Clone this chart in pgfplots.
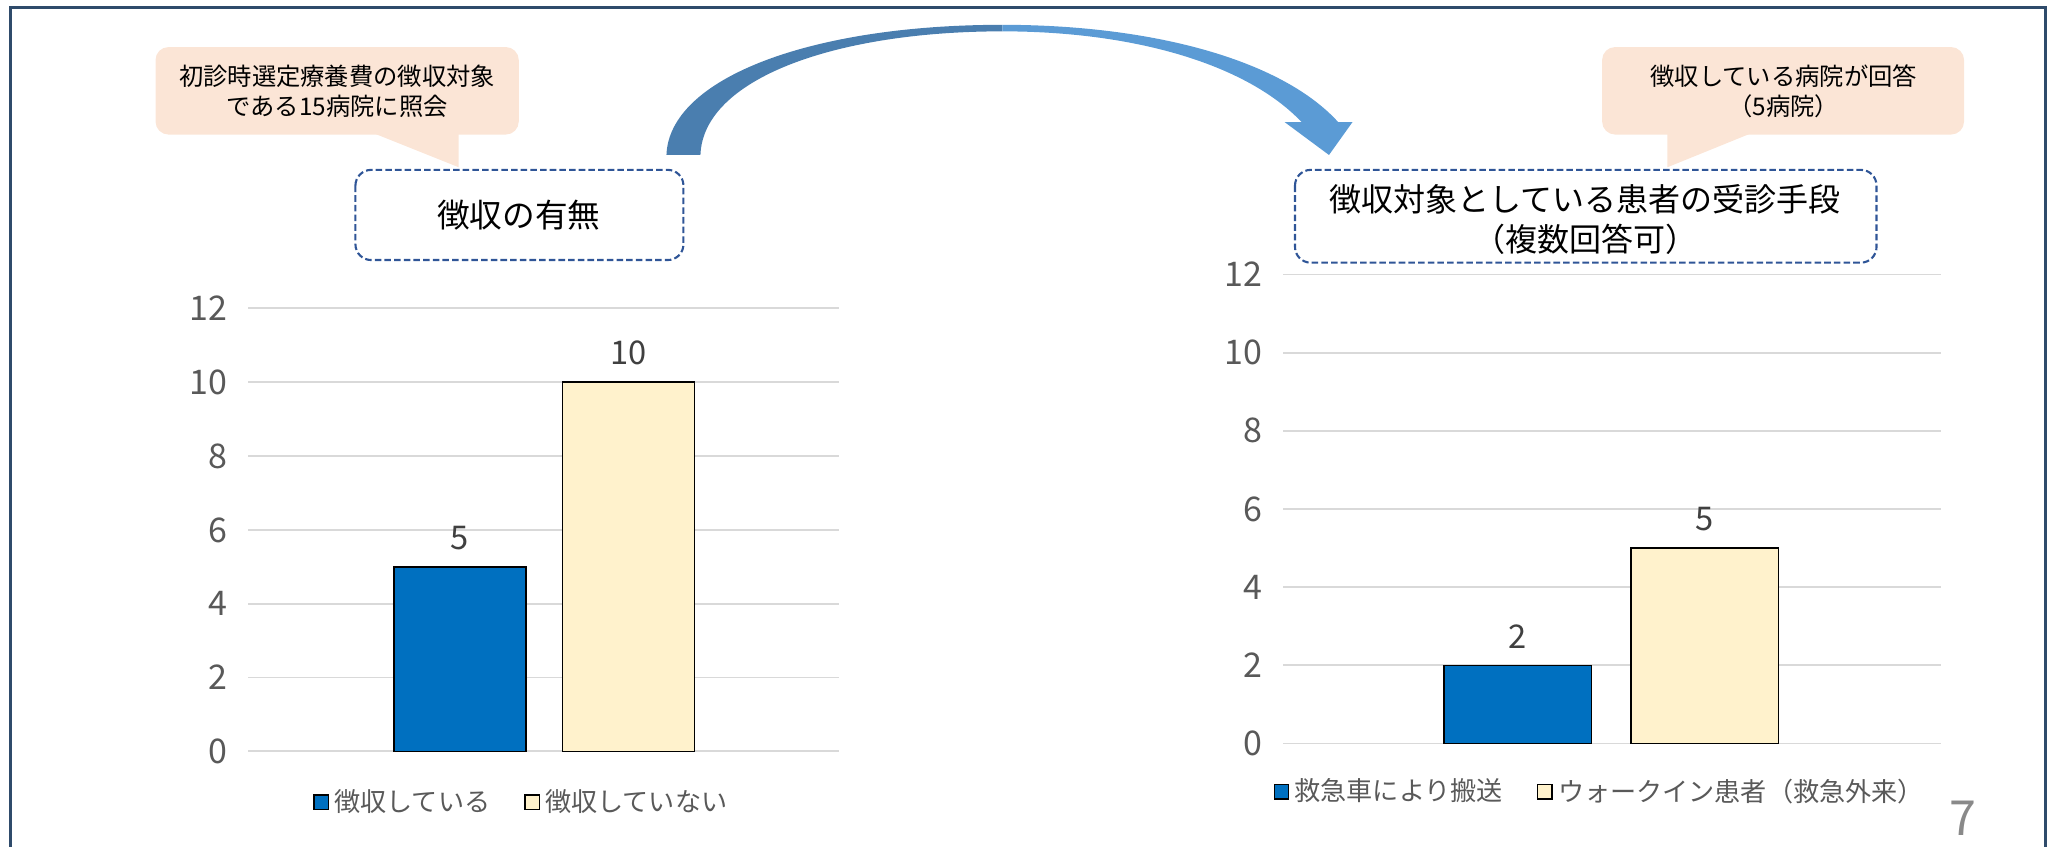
\documentclass[border=0pt]{standalone}
\usepackage{fontspec}
\setmainfont{Noto Sans CJK JP}
\usepackage{pgfplots}
\pgfplotsset{compat=1.18}
\definecolor{barblue}{HTML}{0070C0}
\definecolor{barcream}{HTML}{FFF2CC}
\definecolor{gridgray}{HTML}{D9D9D9}
\definecolor{ticktext}{HTML}{595959}
\definecolor{labtext}{HTML}{404040}
\definecolor{framecol}{HTML}{2F4B6B}
\definecolor{dashblue}{HTML}{2F5597}
\definecolor{peach}{HTML}{FBE5D6}
\definecolor{arrowdark}{HTML}{4A7EAF}
\definecolor{arrowlight}{HTML}{5B9BD5}
\definecolor{pagegray}{HTML}{898989}

\pgfplotsset{
 mybar/.style={
  scale only axis, anchor=south west,
  ymin=0, ymax=12, ytick={0,2,...,12},
  xtick=\empty, enlarge x limits=false,
  axis line style={draw=none}, major tick style={draw=none},
  ymajorgrids, grid style={draw=gridgray, line width=0.7pt},
  /pgf/number format/assume math mode=true,
  yticklabel style={font=\fontsize{13}{14}\selectfont, text=ticktext, xshift=-4.5pt},
  ybar,
  nodes near coords,
  nodes near coords style={font=\fontsize{12.5}{14}\selectfont, text=labtext, yshift=2.8pt},
  legend columns=2,
  legend style={draw=none, fill=none, anchor=center,
    font=\fontsize{10}{12}\selectfont, text=ticktext,
    /tikz/every even column/.append style={column sep=11pt}},
  legend image code/.code={\draw[#1,draw=black,line width=0.5pt] (0pt,-2.75pt) rectangle (5.5pt,2.75pt);},
 }
}

\begin{document}
\begin{tikzpicture}[x=0.5pt,y=0.5pt]
\useasboundingbox (0,0) rectangle (1568,648);

\begin{scope}[shift={(0,648)}, yscale=-1]
  % frame
  \draw[framecol, line width=1.2pt] (8,660) -- (8,5.6) -- (1565,5.6) -- (1565,660);
  % callouts
  \fill[peach] (281,100) -- (351,100) -- (351,128) -- cycle;
  \fill[peach, rounded corners=5pt] (119,36) rectangle (397,103);
  \fill[peach] (1276,100) -- (1345,100) -- (1276,128) -- cycle;
  \fill[peach, rounded corners=5pt] (1226,36) rectangle (1503,103);
  \node[align=center, font=\fontsize{9.3}{11.5}\selectfont] at (258,70) {初診時選定療養費の徴収対象\\である15病院に照会};
  \node[align=center, font=\fontsize{9.3}{11.5}\selectfont] at (1365,70) {徴収している病院が回答\\（5病院）};
  % title boxes
  \draw[dashblue, line width=0.8pt, dash pattern=on 2.5pt off 1.2pt, rounded corners=6pt] (272,130) rectangle (523,199);
  \node[font=\fontsize{12.5}{15}\selectfont] at (397,165) {徴収の有無};
  \draw[dashblue, line width=0.8pt, dash pattern=on 2.5pt off 1.2pt, rounded corners=6pt] (991,130) rectangle (1436,201);
  \node[align=center, font=\fontsize{12.25}{15}\selectfont] at (1213,168) {徴収対象としている患者の受診手段\\（複数回答可）};
  % curved arrow
  \fill[arrowdark] (510,118.6) .. controls (512,60) and (620,19) .. (767,19) -- (767,24) .. controls (640,24) and (538,60) .. (536,118.6) -- cycle;
  \fill[arrowlight] (767,19) .. controls (880,19) and (980,45) .. (1024,93.4) -- (1035,93.4) -- (1017,118.6) -- (983,93.4) -- (996,93.4) .. controls (955,50) and (870,24) .. (767,24) -- cycle;
  % page number
  \node[text=pagegray, font=\fontsize{18.5}{20}\selectfont] at (1502,626) {7};
\end{scope}

\begin{axis}[mybar, at={(95pt,36.5pt)}, width=226pt, height=169.5pt,
  xmin=0, xmax=452, bar width=101,
  legend style={at={(0.465,-0.115)}}]
\addplot[fill=barblue, draw=black, line width=0.6pt, bar shift=0pt] coordinates {(162,5)};
\addplot[fill=barcream, draw=black, line width=0.6pt, bar shift=0pt] coordinates {(291,10)};
\legend{徴収している,徴収していない}
\end{axis}

\begin{axis}[mybar, at={(491pt,39.5pt)}, width=251.5pt, height=179.5pt,
  xmin=0, xmax=503, bar width=113,
  legend style={at={(0.484,-0.103)}}]
\addplot[fill=barblue, draw=black, line width=0.6pt, bar shift=0pt] coordinates {(179.5,2)};
\addplot[fill=barcream, draw=black, line width=0.6pt, bar shift=0pt] coordinates {(322.5,5)};
\legend{救急車により搬送,ウォークイン患者（救急外来）}
\end{axis}
\end{tikzpicture}
\end{document}
